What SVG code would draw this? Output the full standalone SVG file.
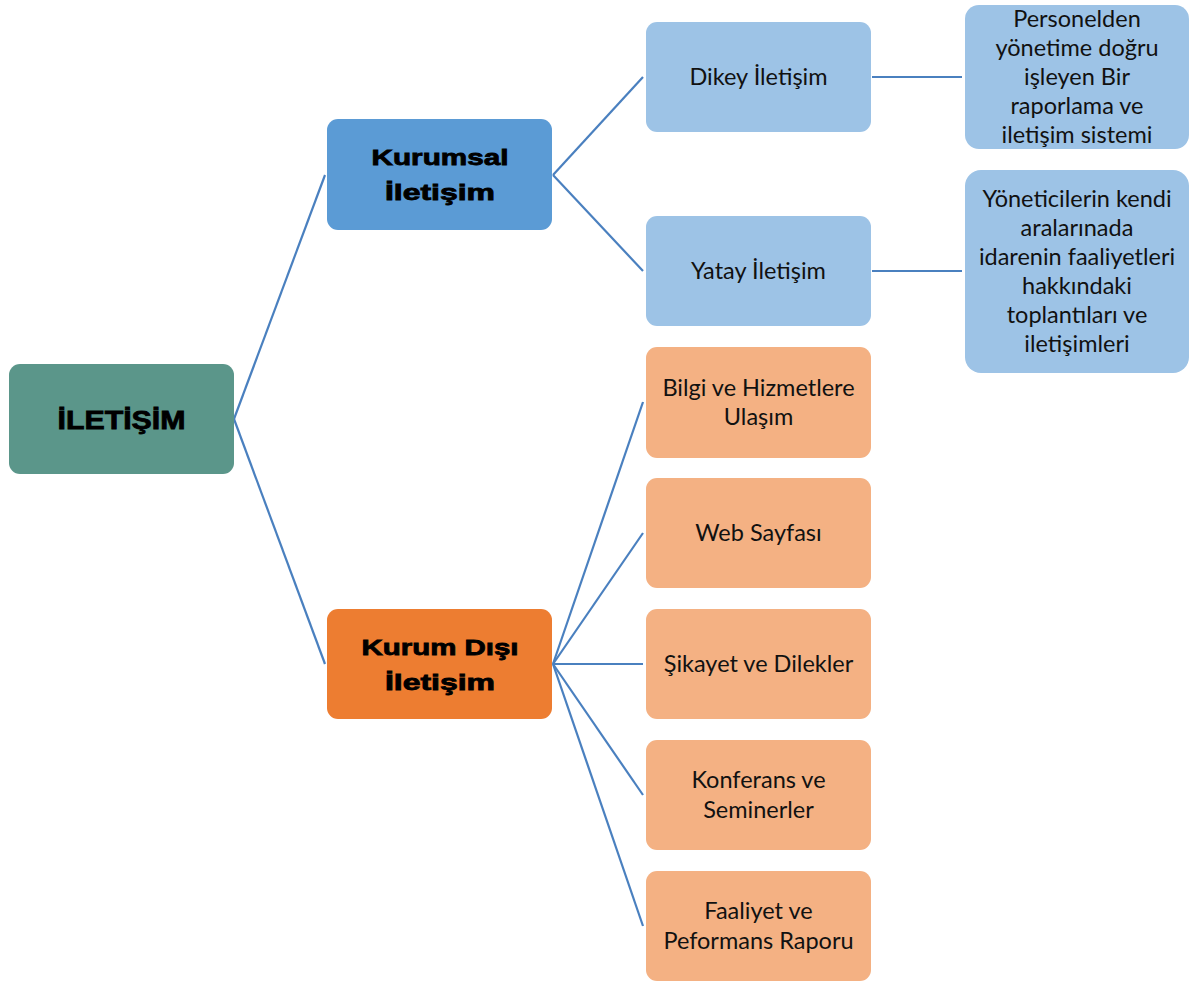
<svg xmlns="http://www.w3.org/2000/svg" width="1189" height="982" viewBox="0 0 1189 982">
<style>
.c{stroke:#4A80BF;stroke-width:2.2;fill:none}
.n rect{stroke:none}
.t{font-family:Lato,"Open Sans","Liberation Sans",sans-serif;font-size:23.5px;fill:#111;text-anchor:middle}
.b{font-family:"Liberation Sans",Arial,sans-serif;font-weight:bold;fill:#000;stroke:#000;stroke-width:0.8;text-anchor:middle}
.root{fill:#5B968A}.mid1{fill:#5B9BD5}.mid2{fill:#ED7D31}.lb{fill:#9DC3E6}.lo{fill:#F4B183}
</style>
<rect width="1189" height="982" fill="#fff"/>
<g id="connectors">
<line class="c" x1="234" y1="419" x2="325" y2="175"/>
<line class="c" x1="234" y1="419" x2="325" y2="664"/>
<line class="c" x1="553" y1="175" x2="643" y2="77"/>
<line class="c" x1="553" y1="175" x2="643" y2="271"/>
<line class="c" x1="872" y1="77" x2="962" y2="77"/>
<line class="c" x1="872" y1="271" x2="962" y2="271"/>
<line class="c" x1="553" y1="664" x2="643" y2="402"/>
<line class="c" x1="553" y1="664" x2="643" y2="533"/>
<line class="c" x1="553" y1="664" x2="643" y2="664"/>
<line class="c" x1="553" y1="664" x2="643" y2="795"/>
<line class="c" x1="553" y1="664" x2="643" y2="926"/>
</g>
<g id="n-iletisim" class="n"><rect class="root" x="9" y="364" width="225" height="110" rx="11"/>
<text class="b" x="121.5" y="429" font-size="26" textLength="128" lengthAdjust="spacingAndGlyphs">İLETİŞİM</text></g>
<g id="n-kurumsal" class="n"><rect class="mid1" x="327" y="119" width="225" height="111" rx="11"/>
<text class="b" x="440" y="165" font-size="22" textLength="137" lengthAdjust="spacingAndGlyphs">Kurumsal</text>
<text class="b" x="440" y="200" font-size="22" textLength="110" lengthAdjust="spacingAndGlyphs">İletişim</text></g>
<g id="n-kurumdisi" class="n"><rect class="mid2" x="327" y="609" width="225" height="110" rx="11"/>
<text class="b" x="440" y="655" font-size="22" textLength="157" lengthAdjust="spacingAndGlyphs">Kurum Dışı</text>
<text class="b" x="440" y="690" font-size="22" textLength="110" lengthAdjust="spacingAndGlyphs">İletişim</text></g>
<g id="n-dikey" class="n"><rect class="lb" x="646" y="22" width="225" height="110" rx="11"/>
<text class="t" x="758.5" y="85">Dikey İletişim</text></g>
<g id="n-yatay" class="n"><rect class="lb" x="646" y="216" width="225" height="110" rx="11"/>
<text class="t" x="758.5" y="279">Yatay İletişim</text></g>
<g id="n-personelden" class="n"><rect class="lb" x="965" y="5" width="224" height="144" rx="14"/>
<text class="t" x="1077" y="27">Personelden</text>
<text class="t" x="1077" y="56">yönetime doğru</text>
<text class="t" x="1077" y="85">işleyen Bir</text>
<text class="t" x="1077" y="114">raporlama ve</text>
<text class="t" x="1077" y="143">iletişim sistemi</text></g>
<g id="n-yoneticilerin" class="n"><rect class="lb" x="965" y="170" width="224" height="203" rx="16"/>
<text class="t" x="1077" y="207">Yöneticilerin kendi</text>
<text class="t" x="1077" y="236">aralarınada</text>
<text class="t" x="1077" y="265">idarenin faaliyetleri</text>
<text class="t" x="1077" y="294">hakkındaki</text>
<text class="t" x="1077" y="323">toplantıları ve</text>
<text class="t" x="1077" y="352">iletişimleri</text></g>
<g id="n-bilgi" class="n"><rect class="lo" x="646" y="347" width="225" height="111" rx="11"/>
<text class="t" x="758.5" y="396">Bilgi ve Hizmetlere</text>
<text class="t" x="758.5" y="425">Ulaşım</text></g>
<g id="n-web" class="n"><rect class="lo" x="646" y="478" width="225" height="110" rx="11"/>
<text class="t" x="758.5" y="541">Web Sayfası</text></g>
<g id="n-sikayet" class="n"><rect class="lo" x="646" y="609" width="225" height="110" rx="11"/>
<text class="t" x="758.5" y="672">Şikayet ve Dilekler</text></g>
<g id="n-konferans" class="n"><rect class="lo" x="646" y="740" width="225" height="110" rx="11"/>
<text class="t" x="758.5" y="788">Konferans ve</text>
<text class="t" x="758.5" y="818">Seminerler</text></g>
<g id="n-faaliyet" class="n"><rect class="lo" x="646" y="871" width="225" height="110" rx="11"/>
<text class="t" x="758.5" y="919">Faaliyet ve</text>
<text class="t" x="758.5" y="949">Peformans Raporu</text></g>
</svg>
